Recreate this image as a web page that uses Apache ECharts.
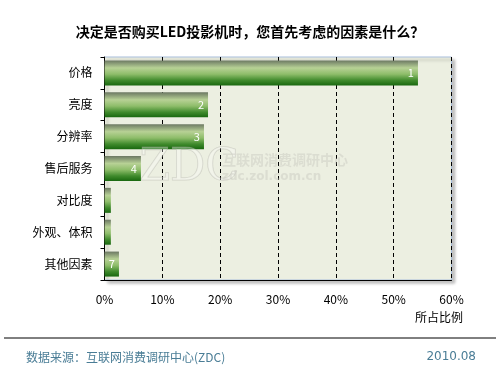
<!DOCTYPE html>
<html><head><meta charset="utf-8">
<script src="https://cdn.jsdelivr.net/npm/echarts@6/dist/echarts.min.js"></script>
<style>html,body{margin:0;padding:0;background:#fff}#c{width:500px;height:375px}</style>
</head><body><div id="c"></div>
<script>
var categories = ['价格','亮度','分辨率','售后服务','对比度','外观、体积','其他因素'];
var values = [54.2, 17.9, 17.2, 6.3, 1.1, 1.1, 2.5];
var rankLabels = ['1','2','3','4','','','7'];
var xTicks = [0,10,20,30,40,50,60];

var chart = echarts.init(document.getElementById('c'));
var font = '"Noto Sans CJK SC", "Noto Sans", sans-serif';
chart.setOption({
  backgroundColor: '#fff',
  animation: false,
  title: {
    text: '决定是否购买LED投影机时，您首先考虑的因素是什么？',
    left: 'center', top: 20,
    textStyle: {fontSize: 14, fontWeight: 'bold', color: '#000', fontFamily: font}
  },
  grid: {
    left: 104.5, right: 48.5, top: 57, bottom: 95,
    show: true, backgroundColor: '#ecefe1', borderColor: '#a8bedc', borderWidth: 1,
    shadowColor: 'rgba(0,0,0,0.25)', shadowBlur: 3, shadowOffsetX: 3, shadowOffsetY: 3
  },
  xAxis: {
    type: 'value', min: xTicks[0], max: xTicks[xTicks.length-1], interval: 10,
    axisLine: {show: true, lineStyle: {color: '#000', width: 1}},
    axisTick: {show: false},
    axisLabel: {formatter: '{value}%', color: '#000', fontSize: 12, margin: 13, fontFamily: font},
    splitLine: {show: true, lineStyle: {color: '#000', type: [4,3], width: 1}}
  },
  yAxis: {
    type: 'category', data: categories, inverse: true,
    axisLine: {show: true, lineStyle: {color: '#000', width: 1}},
    axisTick: {show: true, length: 4, lineStyle: {color: '#000'}},
    axisLabel: {color: '#000', fontSize: 12, margin: 12, fontFamily: font},
    splitLine: {show: false}
  },
  series: [{
    type: 'bar', data: values, barWidth: 25,
    itemStyle: {
      color: new echarts.graphic.LinearGradient(0,0,0,1,[
        {offset: 0, color: '#6c7863'},
        {offset: 0.3, color: '#b7d195'},
        {offset: 0.55, color: '#8ebd6a'},
        {offset: 0.8, color: '#3f8a2c'},
        {offset: 1, color: '#19680f'}
      ])
    },
    label: {
      show: true, position: 'insideRight', distance: 4,
      color: '#fff', fontSize: 11, fontFamily: font,
      formatter: function(p){ return rankLabels[p.dataIndex]; }
    }
  }],
  graphic: [
    {type: 'text', left: 139, top: 146, z: 100, silent: true,
     style: {text: 'ZDC', font: '44px "DejaVu Serif", serif', fill: 'rgba(255,255,255,0.3)', stroke: 'rgba(170,170,160,0.4)', lineWidth: 1}},
    {type: 'text', left: 222, top: 153, z: 100, silent: true,
     style: {text: '互联网消费调研中心', font: 'bold 14px "Noto Sans CJK SC", sans-serif', fill: 'rgba(200,200,190,0.45)'}},
    {type: 'text', left: 222, top: 171, z: 100, silent: true,
     style: {text: 'zdc.zol.com.cn', font: 'bold 12px "DejaVu Sans", sans-serif', fill: 'rgba(200,200,190,0.45)'}},
    {type: 'text', left: 415, top: 311, style: {text: '所占比例', font: '12px "Noto Sans CJK SC", sans-serif', fill: '#000'}},
    {type: 'line', shape: {x1: 4, y1: 338, x2: 496, y2: 338}, style: {stroke: '#000', lineWidth: 1}},
    {type: 'text', left: 26, top: 351, style: {text: '数据来源：互联网消费调研中心(ZDC)', font: '12px "Noto Sans CJK SC", sans-serif', fill: '#4a7d96'}},
    {type: 'text', right: 24, top: 351, style: {text: '2010.08', font: '12px "DejaVu Sans", sans-serif', fill: '#4a7d96'}}
  ]
});
</script></body></html>
